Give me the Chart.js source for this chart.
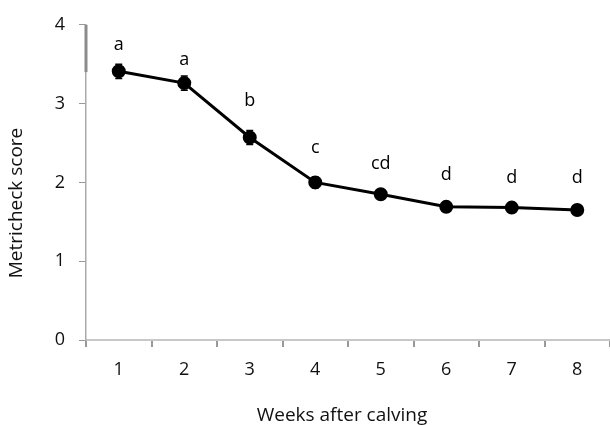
<!DOCTYPE html>
<html><head><meta charset="utf-8">
<script src="https://cdn.jsdelivr.net/npm/chart.js@4/dist/chart.umd.min.js"></script>
<style>html,body{margin:0;padding:0;background:#fff}#wrap{width:610px;height:425px}</style>
</head><body><div id="wrap"><canvas id="c" width="610" height="425"></canvas></div>
<script>
const weeks = ['1','2','3','4','5','6','7','8'];
const scores = [3.41, 3.26, 2.57, 2.00, 1.85, 1.69, 1.68, 1.65];
const sem = [0.09, 0.09, 0.09, 0.07, 0.06, 0.06, 0.06, 0.05];
const letters = ['a','a','b','c','cd','d','d','d'];
const letterY = [3.75, 3.56, 3.04, 2.44, 2.23, 2.09, 2.06, 2.06];
const yTicks = [0,1,2,3,4];
const yTitle = 'Metricheck score';
const xTitle = 'Weeks after calving';
const FONT = "'Open Sans', sans-serif";

const extras = {
  id: 'extras',
  afterDatasetsDraw(chart) {
    const ctx = chart.ctx, x = chart.scales.x, y = chart.scales.y;
    ctx.save();
    // top segment of y axis
    ctx.strokeStyle = '#8c8c8c'; ctx.lineWidth = 3;
    ctx.beginPath(); ctx.moveTo(x.left, y.getPixelForValue(4)); ctx.lineTo(x.left, y.getPixelForValue(3.4)); ctx.stroke();
    // error bars
    ctx.strokeStyle = '#000'; ctx.lineWidth = 1.5;
    scores.forEach((v, i) => {
      const px = x.getPixelForValue(i);
      const hi = y.getPixelForValue(v + sem[i]), lo = y.getPixelForValue(v - sem[i]);
      ctx.beginPath();
      ctx.moveTo(px, hi); ctx.lineTo(px, lo);
      ctx.moveTo(px - 3.5, hi); ctx.lineTo(px + 3.5, hi);
      ctx.moveTo(px - 3.5, lo); ctx.lineTo(px + 3.5, lo);
      ctx.stroke();
    });
    // letters
    ctx.fillStyle = '#000'; ctx.font = '18px ' + FONT;
    ctx.textAlign = 'center'; ctx.textBaseline = 'middle';
    letters.forEach((t, i) => {
      ctx.fillText(t, x.getPixelForValue(i), y.getPixelForValue(letterY[i]));
    });
    // x title
    ctx.fillStyle = '#111'; ctx.font = '19px ' + FONT;
    ctx.textBaseline = 'alphabetic';
    ctx.fillText(xTitle, 342, 421);
    // y title
    ctx.textBaseline = 'middle';
    ctx.translate(17, 203); ctx.rotate(-Math.PI / 2);
    ctx.fillText(yTitle, 0, 0);
    ctx.restore();
  }
};

new Chart(document.getElementById('c'), {
  type: 'line',
  data: { labels: weeks, datasets: [{
    data: scores, borderColor: '#000', borderWidth: 3, backgroundColor: '#000',
    pointRadius: 5.5, pointBackgroundColor: '#000', pointBorderColor: '#000', tension: 0
  }]},
  options: {
    responsive: false, animation: false,
    layout: { autoPadding: false, padding: { top: 20, right: -2, left: 0, bottom: 0 } },
    plugins: { legend: { display: false }, tooltip: { enabled: false } },
    scales: {
      x: {
        offset: true,
        grid: { offset: true, drawOnChartArea: false, tickLength: 7, color: '#999', tickColor: '#999', lineWidth: 2 },
        border: { color: '#c8c8c8', width: 2 },
        ticks: { color: '#111', font: { family: FONT, size: 18 }, padding: 12 },
        title: { display: false },
        afterFit(a) { a.height = 85; }
      },
      y: {
        min: 0, max: 4,
        afterBuildTicks(a) { a.ticks = yTicks.map(v => ({ value: v })); },
        grid: { drawOnChartArea: false, tickLength: 7, color: '#999', tickColor: '#999' },
        border: { color: '#aaa', width: 1.5 },
        ticks: { color: '#111', font: { family: FONT, size: 18 }, padding: 14 },
        title: { display: false },
        afterFit(a) { a.width = 86; }
      }
    }
  },
  plugins: [extras]
});
</script></body></html>
